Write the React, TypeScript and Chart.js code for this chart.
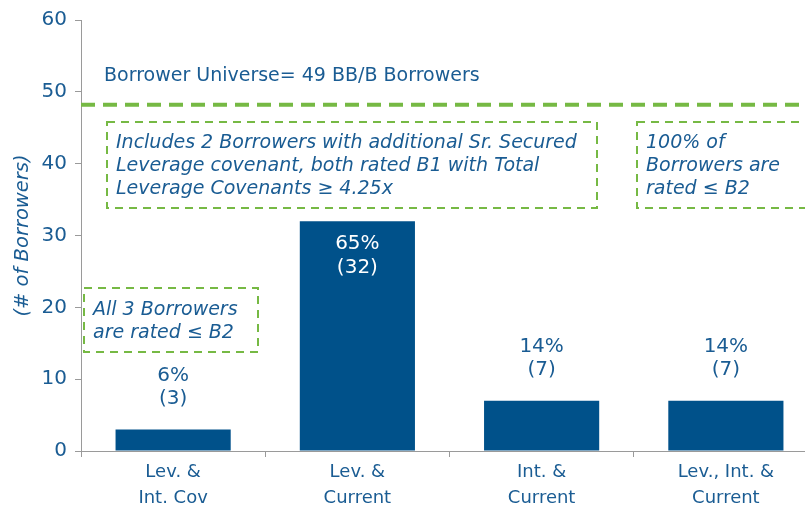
import React, { useEffect, useRef } from "react";
import { Chart, registerables } from "chart.js";
Chart.register(...registerables);

const categories: string[][] = [
  ["Lev. &", "Int. Cov"],
  ["Lev. &", "Current"],
  ["Int. &", "Current"],
  ["Lev., Int. &", "Current"],
];
const borrowers = [3, 32, 7, 7];
const universeTotal = 49;
const universeLine = 48.2;
const yMin = 0;
const yMax = 60;
const yStep = 10;
const yTitle = "(# of Borrowers)";
const universeLabel = "Borrower Universe= 49 BB/B Borrowers";
const noteMain = [
  "Includes 2 Borrowers with additional Sr. Secured",
  "Leverage covenant, both rated B1 with Total",
  "Leverage Covenants \u2265 4.25x",
];
const noteRight = ["100% of", "Borrowers are", "rated \u2264 B2"];
const noteLeft = ["All 3 Borrowers", "are rated \u2264 B2"];

const BLUE = "#1a5c93";
const BAR = "#00518a";
const GREEN = "#76b944";
const GRAY = "#9a9a9a";
const FONT = "'DejaVu Sans', Verdana, sans-serif";

function dashedBox(ctx: CanvasRenderingContext2D, x1: number, y1: number, x2: number, y2: number) {
  ctx.save();
  ctx.strokeStyle = GREEN;
  ctx.lineWidth = 2;
  ctx.setLineDash([8, 6]);
  ctx.strokeRect(x1, y1, x2 - x1, y2 - y1);
  ctx.restore();
}

function textLines(ctx: CanvasRenderingContext2D, lines: string[], x: number, y: number, lh: number) {
  lines.forEach((l, i) => ctx.fillText(l, x, y + i * lh));
}

const overlay = {
  id: "overlay",
  afterDatasetsDraw(chart: any) {
    const ctx: CanvasRenderingContext2D = chart.ctx;
    const area = chart.chartArea;
    const ys = chart.scales.y;
    ctx.save();
    // universe line
    const ly = ys.getPixelForValue(universeLine);
    ctx.strokeStyle = GREEN;
    ctx.lineWidth = 4;
    ctx.setLineDash([14, 8]);
    ctx.beginPath();
    ctx.moveTo(area.left, ly);
    ctx.lineTo(area.right, ly);
    ctx.stroke();
    ctx.setLineDash([]);

    ctx.fillStyle = BLUE;
    ctx.textBaseline = "middle";
    ctx.textAlign = "left";
    ctx.font = `19px ${FONT}`;
    ctx.fillText(universeLabel, 104, 76);

    // annotation boxes
    dashedBox(ctx, 107, 122, 597, 208);
    dashedBox(ctx, 637, 122, 840, 208);
    dashedBox(ctx, 84, 288, 258, 352);
    ctx.font = `italic 19px ${FONT}`;
    ctx.fillStyle = BLUE;
    textLines(ctx, noteMain, 116, 143, 23);
    textLines(ctx, noteRight, 646, 143, 23);
    textLines(ctx, noteLeft, 93, 310, 23);

    // bar labels
    const meta = chart.getDatasetMeta(0);
    ctx.font = `20px ${FONT}`;
    ctx.textAlign = "center";
    meta.data.forEach((bar: any, i: number) => {
      const v = borrowers[i];
      const pct = Math.round((v / universeTotal) * 100) + "%";
      const cnt = "(" + v + ")";
      if (v > 20) {
        ctx.fillStyle = "#ffffff";
        ctx.fillText(pct, bar.x, bar.y + 23);
        ctx.fillText(cnt, bar.x, bar.y + 47);
      } else {
        ctx.fillStyle = BLUE;
        ctx.fillText(pct, bar.x, bar.y - 54);
        ctx.fillText(cnt, bar.x, bar.y - 31);
      }
    });
    ctx.restore();
  },
};

export default function App() {
  const ref = useRef<HTMLCanvasElement | null>(null);
  useEffect(() => {
    if (!ref.current) return;
    const chart = new Chart(ref.current, {
      type: "bar",
      data: {
        labels: categories,
        datasets: [
          {
            data: borrowers,
            backgroundColor: BAR,
            categoryPercentage: 1,
            barPercentage: 0.625,
          },
        ],
      },
      options: {
        responsive: false,
        animation: false,
        devicePixelRatio: 1,
        layout: { padding: { top: 20, right: 0, bottom: 0, left: 0 } },
        plugins: { legend: { display: false }, tooltip: { enabled: false } },
        scales: {
          x: {
            afterFit: (s: any) => {
              s.height = 57;
            },
            grid: {
              display: true,
              offset: true,
              drawOnChartArea: false,
              drawTicks: true,
              tickLength: 6,
              color: GRAY,
            },
            border: { color: GRAY, width: 1 },
            ticks: {
              color: BLUE,
              font: { family: FONT, size: 18, lineHeight: 1.45 },
              padding: 2,
              maxRotation: 0,
              autoSkip: false,
            },
          },
          y: {
            min: yMin,
            max: yMax,
            afterFit: (s: any) => {
              s.width = 81;
            },
            grid: {
              display: true,
              drawOnChartArea: false,
              drawTicks: true,
              tickLength: 6,
              color: GRAY,
            },
            border: { color: GRAY, width: 1 },
            ticks: {
              stepSize: yStep,
              color: BLUE,
              font: { family: FONT, size: 20 },
              padding: 8,
            },
            title: {
              display: true,
              text: yTitle,
              color: BLUE,
              font: { family: FONT, size: 19.5, style: "italic" },
              padding: { top: 11, bottom: 0 },
            },
          },
        },
      },
      plugins: [overlay],
    });
    return () => chart.destroy();
  }, []);
  return (
    <div
      style={{
        position: "fixed",
        left: 0,
        top: 0,
        width: 805,
        height: 508,
        overflow: "hidden",
        background: "#fff",
      }}
    >
      <canvas ref={ref} width={818} height={508} style={{ display: "block" }} />
    </div>
  );
}
